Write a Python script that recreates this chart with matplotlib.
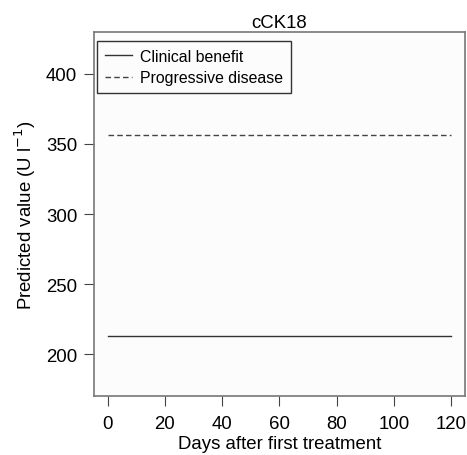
import matplotlib.pyplot as plt
import numpy as np

plt.rcParams['font.family'] = ['Liberation Sans', 'DejaVu Sans']

# data
days = [0, 120]
clinical_benefit = [213, 213]
progressive_disease = [356, 356]
xticks = [0, 20, 40, 60, 80, 100, 120]
yticks = [200, 250, 300, 350, 400]

fig = plt.figure(figsize=(4.67, 4.56), dpi=100)
ax = fig.add_axes([0.2013, 0.1294, 0.794, 0.798])
ax.set_facecolor('#fcfcfc')

ax.plot(days, clinical_benefit, color='#333333', linestyle='-', linewidth=1.0, label='Clinical benefit')
ax.plot(days, progressive_disease, color='#444444', linestyle=(0, (4, 2.3)), linewidth=1.0, label='Progressive disease')

ax.set_xlim(-4.8, 124.8)
ax.set_ylim(170.4, 429.6)
ax.set_xticks(xticks)
ax.set_yticks(yticks)
ax.tick_params(labelsize=13.4, length=7, width=0.8, color='#444444')
ax.tick_params(axis='x', pad=7)
ax.tick_params(axis='y', pad=5)
for s in ax.spines.values():
    s.set_color('#777777')
    s.set_linewidth(1.2)

ax.set_title('cCK18', fontsize=13.4, pad=4)
ax.set_xlabel('Days after first treatment', fontsize=13.4, labelpad=2)
ax.set_ylabel('Predicted value (U l$^{-1}$)', fontsize=13.4, labelpad=6)

leg = ax.legend(loc='upper left', bbox_to_anchor=(3 / 371, 1 - 9 / 364),
                fontsize=11.4, frameon=True, fancybox=False,
                edgecolor='black', borderaxespad=0, handlelength=1.7,
                handletextpad=0.5, borderpad=0.5, labelspacing=0.4)
leg.get_frame().set_linewidth(1.0)
leg.get_frame().set_facecolor('#fcfcfc')

fig.savefig('out.png', dpi=100)
